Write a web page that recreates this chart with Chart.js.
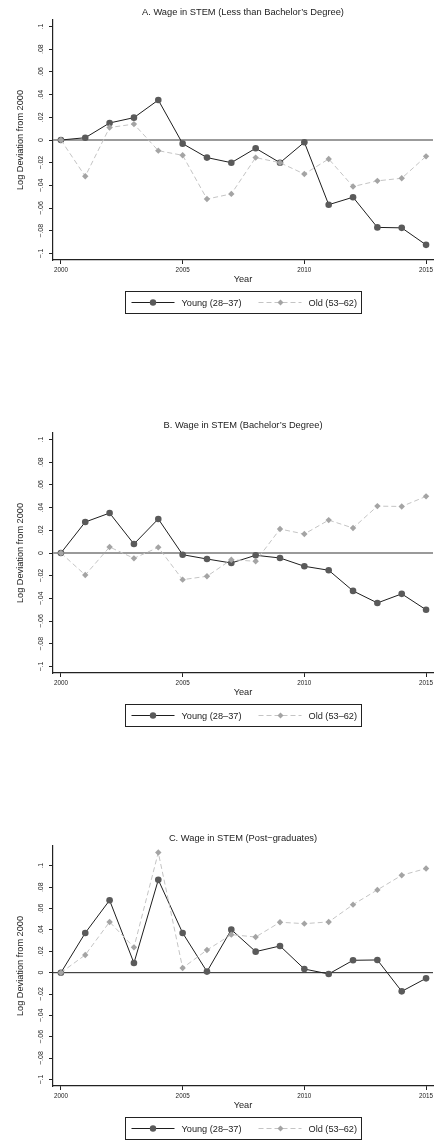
<!DOCTYPE html>
<html>
<head>
<meta charset="utf-8">
<script src="https://cdn.jsdelivr.net/npm/chart.js@4"></script>
<style>
  html, body { margin: 0; padding: 0; background: #fff; overflow: hidden; }
  body { width: 437px; height: 1141px; position: relative; }
  .panel { position: absolute; left: 0; width: 437px; height: 316px; }
</style>
</head>
<body>
<div class="panel" style="top:0px"><canvas id="chartA" width="437" height="316"></canvas></div>
<div class="panel" style="top:413px"><canvas id="chartB" width="437" height="316"></canvas></div>
<div class="panel" style="top:826px"><canvas id="chartC" width="437" height="316"></canvas></div>
<script>
// data
const years = [2000, 2001, 2002, 2003, 2004, 2005, 2006, 2007, 2008, 2009, 2010, 2011, 2012, 2013, 2014, 2015];

const youngA = [0, 0.002, 0.015, 0.0197, 0.0352, -0.0032, -0.0155, -0.020, -0.0073, -0.020, -0.002, -0.057, -0.0504, -0.077, -0.0774, -0.0924];
const oldA   = [0, -0.032, 0.011, 0.014, -0.0094, -0.0135, -0.052, -0.0475, -0.0155, -0.020, -0.030, -0.0167, -0.041, -0.036, -0.0337, -0.0144];

const youngB = [0, 0.0273, 0.0352, 0.0079, 0.030, -0.0015, -0.0053, -0.0088, -0.002, -0.0044, -0.0117, -0.0152, -0.0334, -0.044, -0.036, -0.050];
const oldB   = [0, -0.0194, 0.0053, -0.0047, 0.005, -0.0235, -0.0205, -0.0059, -0.0073, 0.0211, 0.0167, 0.029, 0.022, 0.0413, 0.041, 0.0499];

const youngC = [0, 0.0372, 0.0678, 0.009, 0.0869, 0.0372, 0.001, 0.0403, 0.0197, 0.025, 0.0034, -0.0012, 0.0116, 0.0119, -0.0175, -0.0053];
const oldC   = [0, 0.0166, 0.0475, 0.0237, 0.1125, 0.0044, 0.0212, 0.0356, 0.0334, 0.0472, 0.0459, 0.0475, 0.0637, 0.0775, 0.0912, 0.0975];

const yTickValues = [-0.1, -0.08, -0.06, -0.04, -0.02, 0, 0.02, 0.04, 0.06, 0.08, 0.1];
const yTickLabels = ['\u2212.1', '\u2212.08', '\u2212.06', '\u2212.04', '\u2212.02', '0', '.02', '.04', '.06', '.08', '.1'];
const xTickValues = [2000, 2005, 2010, 2015];

const seriesNames = ['Young (28\u201337)', 'Old (53\u201362)'];
const titles = [
  'A. Wage in STEM (Less than Bachelor\u2019s Degree)',
  'B. Wage in STEM (Bachelor\u2019s Degree)',
  'C. Wage in STEM (Post\u2212graduates)'
];

const FONT = "'Liberation Sans', Arial, sans-serif";
Chart.defaults.font.family = FONT;
Chart.defaults.color = '#222';

const YOUNG_LINE = '#1e1e1e', YOUNG_DOT = '#5a5a5a';
const OLD_LINE = '#c4c4c4', OLD_DOT = '#a4a4a4';

// title, zero line and boxed legend, Stata style
const stataBits = {
  id: 'stataBits',
  beforeDatasetsDraw(chart, args, opts) {
    const {ctx, chartArea: a, scales: {y}} = chart;
    const py = y.getPixelForValue(0);
    ctx.save();
    ctx.strokeStyle = opts.zeroColor;
    ctx.lineWidth = opts.zeroWidth;
    ctx.beginPath();
    ctx.moveTo(a.left, py);
    ctx.lineTo(a.right, py);
    ctx.stroke();
    ctx.restore();
  },
  afterDraw(chart, args, opts) {
    const {ctx, chartArea: a} = chart;
    const cx = (a.left + a.right) / 2;
    ctx.save();
    ctx.fillStyle = '#222';
    ctx.font = '9.3px ' + FONT;
    ctx.textAlign = 'center';
    ctx.textBaseline = 'middle';
    ctx.fillText(opts.title, cx, 12);

    // legend box
    const bw = 236, bh = 22, bx = Math.round(cx - bw / 2) + 0.5, by = 291.5;
    ctx.strokeStyle = '#222';
    ctx.lineWidth = 1;
    ctx.strokeRect(bx, by, bw, bh);
    const ly = by + bh / 2;
    ctx.font = '9.2px ' + FONT;
    ctx.textAlign = 'left';
    // young
    ctx.strokeStyle = YOUNG_LINE;
    ctx.beginPath(); ctx.moveTo(bx + 6, ly); ctx.lineTo(bx + 49, ly); ctx.stroke();
    ctx.fillStyle = YOUNG_DOT;
    ctx.beginPath(); ctx.arc(bx + 27.5, ly, 3.2, 0, Math.PI * 2); ctx.fill();
    ctx.fillStyle = '#222';
    ctx.fillText(seriesNames[0], bx + 56, ly + 0.5);
    // old
    ctx.strokeStyle = OLD_LINE;
    ctx.setLineDash([5, 3]);
    ctx.beginPath(); ctx.moveTo(bx + 133, ly); ctx.lineTo(bx + 176, ly); ctx.stroke();
    ctx.setLineDash([]);
    ctx.fillStyle = OLD_DOT;
    const dx = bx + 155;
    ctx.beginPath(); ctx.moveTo(dx, ly - 3); ctx.lineTo(dx + 3, ly); ctx.lineTo(dx, ly + 3); ctx.lineTo(dx - 3, ly); ctx.closePath(); ctx.fill();
    ctx.fillStyle = '#222';
    ctx.fillText(seriesNames[1], bx + 183, ly + 0.5);
    ctx.restore();
  }
};

function makePanel(id, title, young, old, zeroColor, zeroWidth) {
  // axis runs a few pixels past the data/tick range, like Stata's plot region margin
  const lo = Math.min(-0.1, ...young, ...old);
  const hi = Math.max(0.1, ...young, ...old);
  const m = (hi - lo) * 6.5 / 227;

  new Chart(document.getElementById(id), {
    type: 'line',
    data: {
      datasets: [
        {
          label: seriesNames[0],
          data: years.map((yr, i) => ({x: yr, y: young[i]})),
          borderColor: YOUNG_LINE,
          borderWidth: 1,
          pointStyle: 'circle',
          pointRadius: 3.3,
          pointBackgroundColor: YOUNG_DOT,
          pointBorderWidth: 0,
          tension: 0,
          order: 1
        },
        {
          label: seriesNames[1],
          data: years.map((yr, i) => ({x: yr, y: old[i]})),
          borderColor: OLD_LINE,
          borderWidth: 1,
          borderDash: [5, 3],
          pointStyle: 'rectRot',
          pointRadius: 3.2,
          pointBackgroundColor: OLD_DOT,
          pointBorderWidth: 0,
          tension: 0,
          order: 0
        }
      ]
    },
    options: {
      responsive: false,
      animation: false,
      devicePixelRatio: 1,
      layout: { padding: { top: 20, left: 0, right: 0, bottom: 28 } },
      plugins: {
        legend: { display: false },
        tooltip: { enabled: false },
        stataBits: { title: title, zeroColor: zeroColor, zeroWidth: zeroWidth }
      },
      scales: {
        x: {
          type: 'linear',
          min: 1999.675,
          max: 2015.285,
          afterBuildTicks: s => { s.ticks = xTickValues.map(v => ({value: v})); },
          afterFit: s => { s.height = 28; },
          border: { display: true, color: '#222', width: 1.2 },
          grid: { drawOnChartArea: false, drawTicks: true, tickLength: 4, color: '#222' },
          ticks: {
            autoSkip: false, maxRotation: 0, padding: 2,
            font: { size: 6.3 }, color: '#222',
            callback: v => String(v)
          },
          title: { display: true, text: 'Year', font: { size: 9.2 }, color: '#222', padding: { top: 0, bottom: 3.5 } }
        },
        y: {
          min: lo - m,
          max: hi + m,
          afterBuildTicks: s => { s.ticks = yTickValues.map(v => ({value: v})); },
          afterFit: s => { s.width = 53; },
          border: { display: true, color: '#222', width: 1.2 },
          grid: { drawOnChartArea: false, drawTicks: true, tickLength: 4, color: '#222' },
          ticks: {
            autoSkip: false, minRotation: 90, maxRotation: 90, crossAlign: 'center', padding: 0.6,
            font: { size: 7 }, color: '#222',
            callback: (v, i) => yTickLabels[i]
          },
          title: { display: true, text: 'Log Deviation from 2000', font: { size: 9.2 }, color: '#222', padding: { top: 14.5, bottom: 0 } }
        }
      }
    },
    plugins: [stataBits]
  });
}

makePanel('chartA', titles[0], youngA, oldA, '#7a7a7a', 1.4);
makePanel('chartB', titles[1], youngB, oldB, '#9a9a9a', 2);
makePanel('chartC', titles[2], youngC, oldC, '#1e1e1e', 1);
</script>
</body>
</html>
